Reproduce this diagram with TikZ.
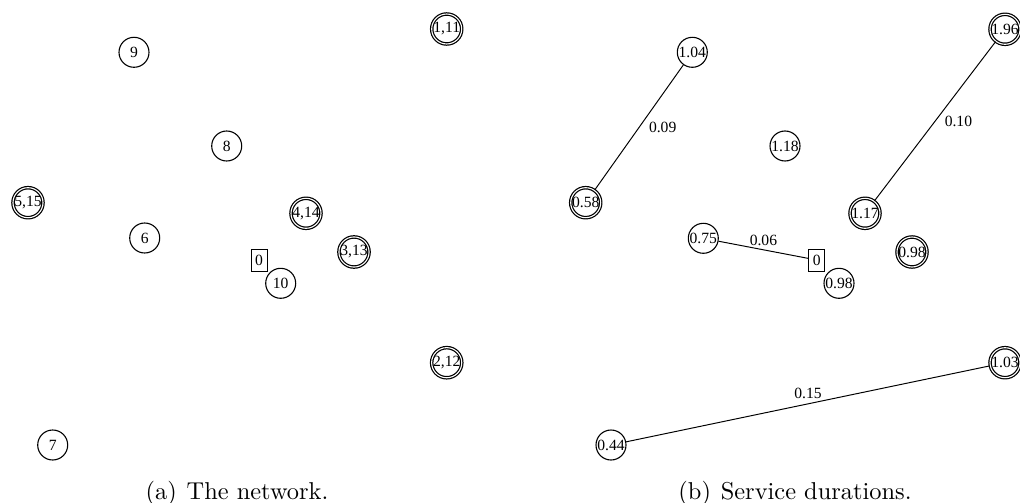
\documentclass[tikz,border=0pt]{standalone}
\usepackage{fontspec}
\newfontfamily\nodefont{Liberation Serif}
\begin{document}
\begin{tikzpicture}[x=0.41pt, y=-0.41pt,
  vtx/.style={circle, draw, line width=0.45pt, minimum size=12.3pt, inner sep=0pt,
    font=\nodefont\fontsize{6.4}{7}\selectfont},
  cust/.style={vtx, line width=0.5pt, double, double distance=0.45pt},
  depot/.style={rectangle, draw, line width=0.35pt, minimum width=6.6pt,
    minimum height=9pt, inner sep=0pt, font=\nodefont\fontsize{6.4}{7}\selectfont},
  lbl/.style={inner sep=0pt, font=\nodefont\fontsize{6.4}{7}\selectfont},
  conn/.style={line width=0.4pt},
  captext/.style={anchor=base, inner sep=0pt, font=\fontsize{10}{12}\selectfont}]
\useasboundingbox (0,0) rectangle (1020,503);

% (a) the network
\node[vtx]  (a9)  at (134,52.3)    {9};
\node[cust] (a1)  at (446.7,29)    {1,11};
\node[vtx]  (a8)  at (226.7,146)   {8};
\node[cust] (a5)  at (28,202.7)    {5,15};
\node[cust] (a4)  at (306,213.3)   {4,14};
\node[vtx]  (a6)  at (144.7,238)   {6};
\node[cust] (a3)  at (354,252)     {3,13};
\node[depot](a0)  at (259,260)     {0};
\node[vtx]  (a10) at (280.7,283.3) {10};
\node[cust] (a2)  at (446.7,362.7) {2,12};
\node[vtx]  (a7)  at (52.7,445)    {7};
\node[captext] (capa) at (237,499) {(a)\hspace{0.7pt} The network.};

% (b) service durations
\node[vtx]  (b9)  at (692.3,52.3)  {1.04};
\node[cust] (b1)  at (1005,29.3)   {1.96};
\node[vtx]  (b8)  at (785,146)     {1.18};
\node[cust] (b5)  at (585.7,202.7) {0.58};
\node[cust] (b4)  at (865,213.3)   {1.17};
\node[vtx]  (b6)  at (703.3,238.3) {0.75};
\node[cust] (b3)  at (912,252)     {0.98};
\node[depot](b0)  at (816.7,260)   {0};
\node[vtx]  (b10) at (839,283.3)   {0.98};
\node[cust] (b2)  at (1005,362.7)  {1.03};
\node[vtx]  (b7)  at (611,445)     {0.44};
\node[captext] (capb) at (795,499) {(b)\hspace{0.7pt} Service durations.};

\draw[conn] (b5) -- node[lbl, xshift=9.7pt] {0.09} (b9);
\draw[conn] (b4) -- node[lbl, xshift=9.6pt] {0.10} (b1);
\draw[conn] (b6) -- node[lbl, yshift=3.9pt] {0.06} (b0);
\draw[conn] (b7) -- node[lbl, yshift=4.1pt] {0.15} (b2);
\end{tikzpicture}
\end{document}
